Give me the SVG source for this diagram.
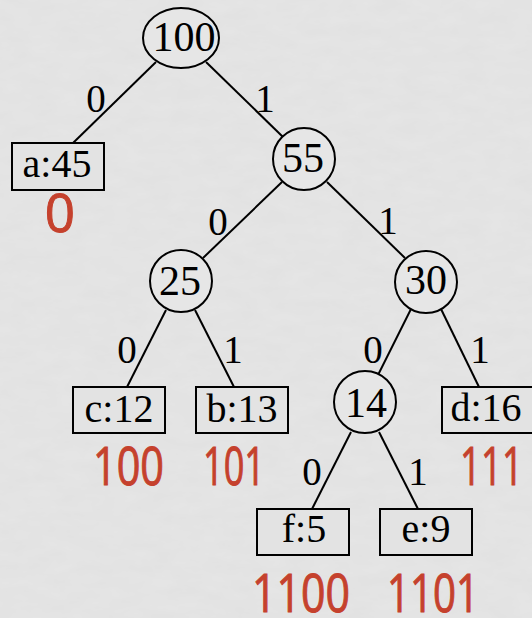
<svg xmlns="http://www.w3.org/2000/svg" width="532" height="618" viewBox="0 0 532 618">
  <defs>
    <filter id="grain" x="0" y="0" width="100%" height="100%">
      <feTurbulence type="fractalNoise" baseFrequency="0.035 0.08" numOctaves="3" seed="7" result="n"/>
      <feColorMatrix in="n" type="matrix" values="0 0 0 0 0.5  0 0 0 0 0.5  0 0 0 0 0.5  0 0 0 0.12 0"/>
    </filter>
    <style>
      .edge { stroke: #000; stroke-width: 2; fill: none; }
      .inner { fill: #e6e6e6; stroke: #000; stroke-width: 2; }
      .leaf { fill: #e3e3e3; stroke: #000; stroke-width: 2; }
      .num { font-family: "Liberation Serif", "Times New Roman", serif; font-size: 42px; fill: #000; text-anchor: middle; }
      .key { font-family: "Liberation Serif", "Times New Roman", serif; font-size: 40px; fill: #000; text-anchor: middle; }
      .bit { font-family: "Liberation Serif", "Times New Roman", serif; font-size: 39px; fill: #000; text-anchor: middle; }
      .code { font-family: "Open Sans", "Lato", sans-serif; font-size: 53px; fill: #c5412d; stroke: #c5412d; stroke-width: 1; text-anchor: middle; }
    </style>
  </defs>

  <!-- background with faint paper grain -->
  <rect width="532" height="618" fill="#e6e6e6"/>
  <rect width="532" height="618" filter="url(#grain)"/>

  <!-- connectors and their 0/1 labels -->
  <g id="edges">
    <line class="edge" x1="156" y1="62" x2="73" y2="143"/>
    <line class="edge" x1="206" y1="62" x2="283" y2="137"/>
    <line class="edge" x1="282" y1="182" x2="203" y2="258"/>
    <line class="edge" x1="327" y1="182" x2="405" y2="258"/>
    <line class="edge" x1="166" y1="310" x2="127" y2="387"/>
    <line class="edge" x1="195" y1="310" x2="234" y2="387"/>
    <line class="edge" x1="411" y1="309" x2="378" y2="375"/>
    <line class="edge" x1="441" y1="309" x2="479" y2="387"/>
    <line class="edge" x1="351" y1="432" x2="312" y2="509"/>
    <line class="edge" x1="379" y1="432" x2="418" y2="509"/>

    <text class="bit" x="96" y="112">0</text>
    <text class="bit" x="265" y="112">1</text>
    <text class="bit" x="218" y="235">0</text>
    <text class="bit" x="388" y="234">1</text>
    <text class="bit" x="127" y="363">0</text>
    <text class="bit" x="233" y="363">1</text>
    <text class="bit" x="373" y="363">0</text>
    <text class="bit" x="480" y="363">1</text>
    <text class="bit" x="312" y="485">0</text>
    <text class="bit" x="418" y="485">1</text>
  </g>

  <!-- internal nodes -->
  <g id="n100">
    <ellipse class="inner" cx="181" cy="38" rx="38" ry="30"/>
    <text class="num" x="184" y="51">100</text>
  </g>
  <g id="n55">
    <circle class="inner" cx="304" cy="159" r="31"/>
    <text class="num" x="303" y="172">55</text>
  </g>
  <g id="n25">
    <circle class="inner" cx="181" cy="281" r="31"/>
    <text class="num" x="180" y="295">25</text>
  </g>
  <g id="n30">
    <circle class="inner" cx="426" cy="282" r="31"/>
    <text class="num" x="426" y="294">30</text>
  </g>
  <g id="n14">
    <circle class="inner" cx="365" cy="402" r="31"/>
    <text class="num" x="366" y="417">14</text>
  </g>

  <!-- leaves with their codewords -->
  <g id="leaf-a">
    <rect class="leaf" x="12" y="143" width="92" height="47"/>
    <text class="key" x="57" y="177">a:45</text>
    <text class="code" x="60" y="232" font-size="45">0</text>
  </g>
  <g id="leaf-c">
    <rect class="leaf" x="73" y="387" width="92" height="46"/>
    <text class="key" x="119" y="422">c:12</text>
    <text class="code" x="128.5" y="485" textLength="71" lengthAdjust="spacingAndGlyphs">100</text>
  </g>
  <g id="leaf-b">
    <rect class="leaf" x="196" y="387" width="92" height="46"/>
    <text class="key" x="242" y="422">b:13</text>
    <text class="code" x="234" y="485" textLength="62" lengthAdjust="spacingAndGlyphs">101</text>
  </g>
  <g id="leaf-d">
    <rect class="leaf" x="442" y="387" width="95" height="46"/>
    <text class="key" x="486" y="421">d:16</text>
    <text class="code" x="491.5" y="485" textLength="63" lengthAdjust="spacingAndGlyphs">111</text>
  </g>
  <g id="leaf-f">
    <rect class="leaf" x="257" y="509" width="92" height="46"/>
    <text class="key" x="304" y="542">f:5</text>
    <text class="code" x="301" y="612" textLength="98" lengthAdjust="spacingAndGlyphs">1100</text>
  </g>
  <g id="leaf-e">
    <rect class="leaf" x="380" y="509" width="92" height="46"/>
    <text class="key" x="426" y="542">e:9</text>
    <text class="code" x="433" y="612" textLength="92" lengthAdjust="spacingAndGlyphs">1101</text>
  </g>
</svg>
